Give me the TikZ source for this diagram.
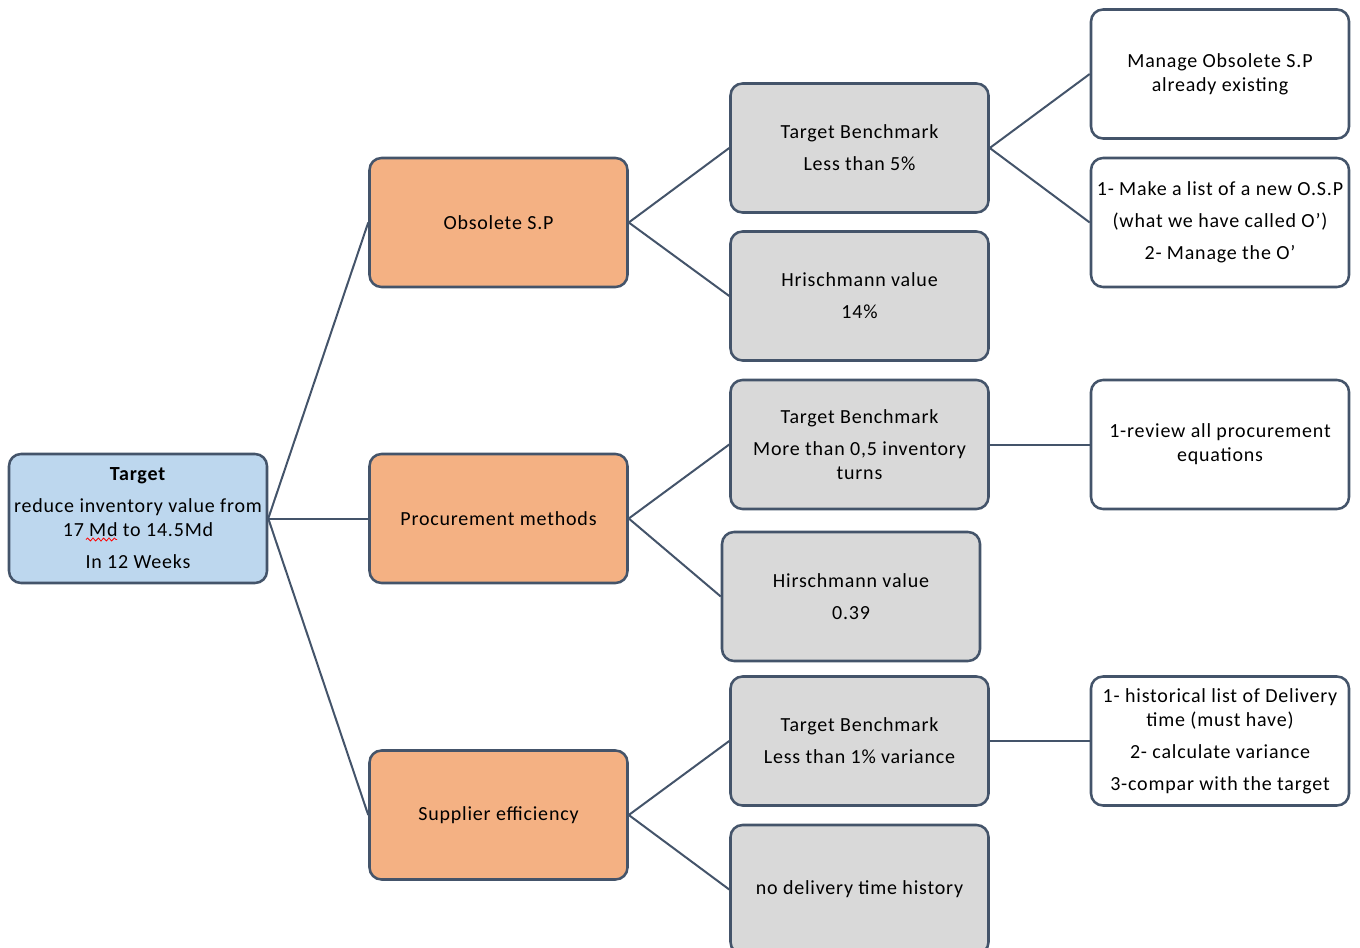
\documentclass[tikz,border=0pt]{standalone}
\usepackage{fontspec}
\setmainfont{Carlito}[LetterSpace=4]
\usetikzlibrary{decorations.pathmorphing}
\definecolor{edgeclr}{HTML}{44546A}
\definecolor{goalfill}{HTML}{BDD7EE}
\definecolor{areafill}{HTML}{F4B183}
\definecolor{kpifill}{HTML}{D9D9D9}
\tikzset{
  card/.style={draw=edgeclr, line width=1.9pt, rounded corners=9pt,
    minimum width=193.5pt, minimum height=96.75pt, inner sep=0pt,
    align=center, font=\fontsize{15}{18}\selectfont, text=black},
  goal/.style={card, fill=goalfill},
  area/.style={card, fill=areafill},
  kpi/.style={card, fill=kpifill},
  action/.style={card, fill=white},
  link/.style={draw=edgeclr, line width=1.5pt}
}
\begin{document}
\begin{tikzpicture}[x=0.75pt, y=-0.75pt]
\useasboundingbox (0,0) rectangle (1360,948);

% root goal
\node[goal] (target) at (138,518.5)
  {\textbf{Target}\\[6pt]reduce inventory value from\\17 Md to 14.5Md\\[6pt]In 12 Weeks};

% improvement areas
\node[area] (obs)  at (498.5,222.5) {Obsolete S.P};
\node[area] (proc) at (498.5,518.5) {Procurement methods};
\node[area] (supp) at (498.5,815)   {Supplier efficiency};

% indicators
\node[kpi] (tb1) at (859.5,148)   {Target Benchmark\\[6pt]Less than 5\%};
\node[kpi] (hr1) at (859.5,296)   {Hrischmann value\\[6pt]14\%};
\node[kpi] (tb2) at (859.5,444.5) {Target Benchmark\\[6pt]More than 0,5 inventory\\turns};
\node[kpi] (hr2) at (851,596.5)   {Hirschmann value\\[6pt]0.39};
\node[kpi] (tb3) at (859.5,741)   {Target Benchmark\\[6pt]Less than 1\% variance};
\node[kpi] (nd)  at (859.5,889.5) {no delivery time history};

% actions
\node[action] (w1) at (1220,74)    {Manage Obsolete S.P\\already existing};
\node[action] (w2) at (1220,222.5) {1- Make a list of a new O.S.P\\[6pt](what we have called O’)\\[6pt]2- Manage the O’};
\node[action] (w3) at (1220,444.5) {1-review all procurement\\equations};
\node[action] (w4) at (1220,741)   {1- historical list of Delivery\\time (must have)\\[6pt]2- calculate variance\\[6pt]3-compar with the target};

% spell-check mark under "Md"
\draw[red, line width=0.6pt, decorate,
      decoration={snake, amplitude=1.1pt, segment length=4pt}]
  (86,539.5) -- (117,539.5);

% connectors
\draw[link] (target.east) -- (obs.west);
\draw[link] (target.east) -- (proc.west);
\draw[link] (target.east) -- (supp.west);
\draw[link] (obs.east) -- (tb1.west);
\draw[link] (obs.east) -- (hr1.west);
\draw[link] (proc.east) -- (tb2.west);
\draw[link] (proc.east) -- (hr2.west);
\draw[link] (supp.east) -- (tb3.west);
\draw[link] (supp.east) -- (nd.west);
\draw[link] (tb1.east) -- (w1.west);
\draw[link] (tb1.east) -- (w2.west);
\draw[link] (tb2.east) -- (w3.west);
\draw[link] (tb3.east) -- (w4.west);
\end{tikzpicture}
\end{document}
